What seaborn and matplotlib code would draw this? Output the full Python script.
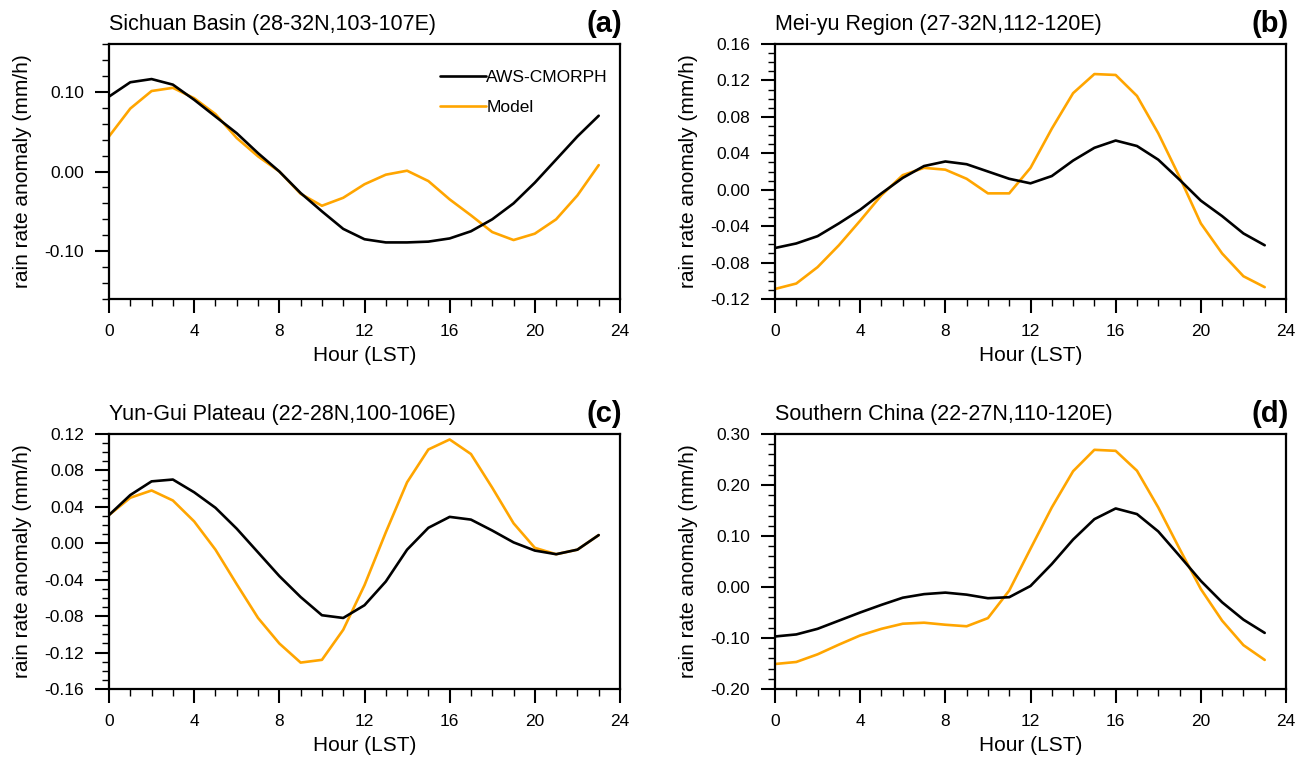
import numpy as np
import pandas as pd
import matplotlib
matplotlib.use("Agg")
import matplotlib.pyplot as plt
import seaborn as sns
from matplotlib.ticker import MultipleLocator, FormatStrFormatter

sns.set_style("ticks")
plt.rcParams['font.family'] = ['Liberation Sans', 'DejaVu Sans']
plt.rcParams['axes.unicode_minus'] = False
plt.rcParams['text.color'] = 'black'
plt.rcParams['axes.labelcolor'] = 'black'
plt.rcParams['xtick.color'] = 'black'
plt.rcParams['ytick.color'] = 'black'

hours = list(range(24))

# (a) Sichuan Basin
obs_a = [0.094, 0.112, 0.116, 0.109, 0.090, 0.069, 0.048, 0.023, 0.000, -0.027, -0.050, -0.072,
         -0.085, -0.089, -0.089, -0.088, -0.084, -0.075, -0.060, -0.040, -0.014, 0.015, 0.044, 0.070]
mod_a = [0.044, 0.079, 0.101, 0.105, 0.092, 0.072, 0.042, 0.019, 0.000, -0.028, -0.043, -0.033,
         -0.016, -0.004, 0.001, -0.012, -0.035, -0.055, -0.076, -0.086, -0.078, -0.060, -0.030, 0.008]
# (b) Mei-yu Region
obs_b = [-0.064, -0.059, -0.051, -0.037, -0.022, -0.004, 0.013, 0.026, 0.031, 0.028, 0.020, 0.012,
         0.007, 0.015, 0.032, 0.046, 0.054, 0.048, 0.033, 0.011, -0.012, -0.029, -0.048, -0.061]
mod_b = [-0.109, -0.103, -0.085, -0.061, -0.034, -0.006, 0.016, 0.024, 0.022, 0.012, -0.004, -0.004,
         0.024, 0.067, 0.106, 0.127, 0.126, 0.103, 0.062, 0.014, -0.037, -0.070, -0.095, -0.107]
# (c) Yun-Gui Plateau
obs_c = [0.031, 0.053, 0.068, 0.070, 0.056, 0.039, 0.016, -0.010, -0.036, -0.059, -0.079, -0.082,
         -0.068, -0.042, -0.007, 0.017, 0.029, 0.026, 0.014, 0.001, -0.008, -0.012, -0.007, 0.009]
mod_c = [0.031, 0.050, 0.058, 0.047, 0.024, -0.007, -0.045, -0.082, -0.110, -0.131, -0.128, -0.095,
         -0.046, 0.012, 0.067, 0.103, 0.114, 0.098, 0.061, 0.022, -0.005, -0.012, -0.007, 0.009]
# (d) Southern China
obs_d = [-0.097, -0.093, -0.082, -0.066, -0.050, -0.035, -0.021, -0.014, -0.011, -0.015, -0.022, -0.020,
         0.002, 0.045, 0.093, 0.133, 0.154, 0.143, 0.109, 0.061, 0.012, -0.030, -0.064, -0.090]
mod_d = [-0.151, -0.147, -0.132, -0.113, -0.095, -0.082, -0.072, -0.070, -0.074, -0.077, -0.061, -0.007,
         0.075, 0.156, 0.227, 0.269, 0.267, 0.228, 0.156, 0.075, -0.004, -0.066, -0.114, -0.143]

titles = ["Sichuan Basin (28-32N,103-107E)", "Mei-yu Region (27-32N,112-120E)",
          "Yun-Gui Plateau (22-28N,100-106E)", "Southern China (22-27N,110-120E)"]
tags = ["(a)", "(b)", "(c)", "(d)"]
ylims = [(-0.16, 0.16), (-0.12, 0.16), (-0.16, 0.12), (-0.20, 0.30)]
ymajor = [0.10, 0.04, 0.04, 0.10]
yminor = [0.02, 0.01, 0.01, 0.02]
obs_all = [obs_a, obs_b, obs_c, obs_d]
mod_all = [mod_a, mod_b, mod_c, mod_d]

W, H = 1297, 762
fig = plt.figure(figsize=(W / 100, H / 100), dpi=100)
boxes = [(109, 44), (775, 44), (109, 434), (775, 434)]
aw, ah = 511, 255

for i in range(4):
    x0, y0 = boxes[i]
    ax = fig.add_axes([x0 / W, (H - y0 - ah) / H, aw / W, ah / H])
    df_o = pd.DataFrame({"hour": hours, "value": obs_all[i]})
    df_m = pd.DataFrame({"hour": hours, "value": mod_all[i]})
    sns.lineplot(data=df_o, x="hour", y="value", color="black", lw=1.9, ax=ax,
                 label="AWS-CMORPH", zorder=3)
    sns.lineplot(data=df_m, x="hour", y="value", color="#FFA500", lw=1.9, ax=ax,
                 label="Model", zorder=2)
    ax.set_xlim(0, 24)
    ax.set_ylim(*ylims[i])
    ax.xaxis.set_major_locator(MultipleLocator(4))
    ax.xaxis.set_minor_locator(MultipleLocator(1))
    ax.yaxis.set_major_locator(MultipleLocator(ymajor[i]))
    ax.yaxis.set_minor_locator(MultipleLocator(yminor[i]))
    ax.yaxis.set_major_formatter(FormatStrFormatter('%.2f'))
    ax.tick_params(which='major', direction='out', length=10, width=1.5, labelsize=12.5,
                   color='black', labelcolor='black')
    ax.tick_params(axis='y', which='major', pad=8)
    ax.tick_params(axis='x', which='major', pad=8)
    ax.tick_params(which='minor', direction='out', length=5, width=1.0, color='black')
    for s in ax.spines.values():
        s.set_linewidth(1.6)
        s.set_color('black')
        s.set_visible(True)
    ax.set_xlabel("Hour (LST)", fontsize=15, labelpad=5)
    ax.set_ylabel("rain rate anomaly (mm/h)", fontsize=15, labelpad=9)
    ax.text(0.0, 1.035, titles[i], transform=ax.transAxes, ha='left', va='bottom', fontsize=15.5)
    ax.text(1.005, 1.025, tags[i], transform=ax.transAxes, ha='right', va='bottom',
            fontsize=21, fontweight='bold')
    if i == 0:
        ax.legend(loc='upper left', bbox_to_anchor=(0.635, 0.925), frameon=False,
                  handlelength=2.6, handletextpad=0.05, labelspacing=0.85, fontsize=12.5,
                  borderaxespad=0.0)
    else:
        leg = ax.get_legend()
        if leg is not None:
            leg.remove()

fig.savefig("out.png", dpi=100)
